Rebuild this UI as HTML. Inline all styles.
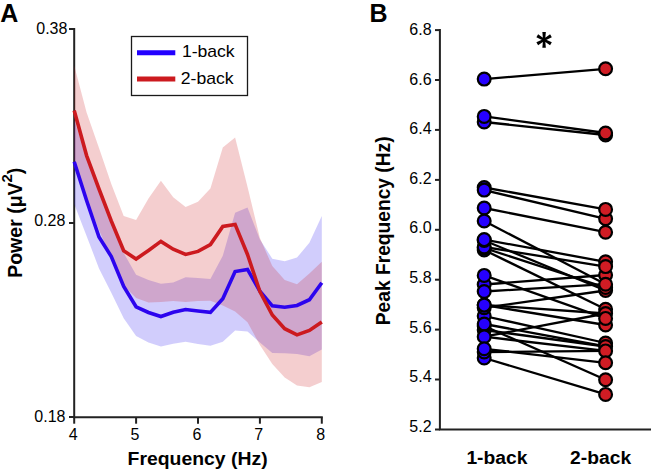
<!DOCTYPE html>
<html><head><meta charset="utf-8"><style>html,body{margin:0;padding:0;background:#fff}</style></head>
<body><svg width="651" height="469" viewBox="0 0 651 469" style="display:block;font-family:'Liberation Sans',sans-serif">
<rect width="651" height="469" fill="#fff"/>
<text x="0.2" y="21.9" font-size="25" font-weight="bold" fill="#000">A</text>
<text x="369.6" y="21.9" font-size="25" font-weight="bold" fill="#000">B</text>
<!-- axes left -->
<g stroke="#222" stroke-width="2" fill="none">
<path d="M74.2,28 V417.3 H322.8"/>
<path d="M69,29 H74.2"/><path d="M69,223 H74.2"/><path d="M69,417 H74.2"/>
<path d="M74.2,417.3 V423.7"/><path d="M136.1,417.3 V423.7"/><path d="M198.0,417.3 V423.7"/><path d="M259.9,417.3 V423.7"/><path d="M321.8,417.3 V423.7"/>
</g>
<!-- bands -->
<polygon points="74.2,120.0 86.6,157.0 99.0,190.5 111.3,222.5 123.7,253.0 136.1,274.8 148.5,279.9 160.9,283.7 173.2,282.4 185.6,277.3 198.0,278.0 210.4,279.0 222.8,255.7 235.1,212.8 247.5,207.5 259.9,239.5 272.3,258.7 284.7,261.2 297.0,257.6 309.4,242.7 321.8,216.0 321.8,349.6 309.4,356.3 297.0,353.9 284.7,353.2 272.3,353.1 259.9,342.4 247.5,331.5 235.1,330.4 222.8,341.7 210.4,345.8 198.0,344.0 185.6,341.7 173.2,343.8 160.9,346.4 148.5,342.5 136.1,336.1 123.7,318.2 111.3,292.7 99.0,268.4 86.6,236.0 74.2,204.0" fill="rgb(40,20,240)" fill-opacity="0.21"/>
<polygon points="74.2,65.4 86.6,112.5 99.0,148.0 111.3,184.0 123.7,215.9 136.1,220.1 148.5,198.4 160.9,180.7 173.2,197.3 185.6,206.9 198.0,201.8 210.4,188.5 222.8,147.4 235.1,137.4 247.5,186.8 259.9,238.0 272.3,266.1 284.7,280.0 297.0,284.2 309.4,273.6 321.8,261.8 321.8,382.0 309.4,387.2 297.0,385.6 284.7,377.4 272.3,363.9 259.9,345.0 247.5,322.2 235.1,311.4 222.8,305.6 210.4,300.7 198.0,301.0 185.6,301.9 173.2,301.1 160.9,302.1 148.5,302.4 136.1,297.9 123.7,285.7 111.3,258.0 99.0,230.0 86.6,198.7 74.2,162.0" fill="rgb(205,25,30)" fill-opacity="0.21"/>
<polyline points="74.2,161.7 86.6,200.5 99.0,237.0 111.3,256.5 123.7,286.5 136.1,306.8 148.5,312.5 160.9,316.5 173.2,312.3 185.6,309.5 198.0,311.0 210.4,312.4 222.8,298.7 235.1,271.5 247.5,269.4 259.9,291.2 272.3,305.9 284.7,307.2 297.0,305.5 309.4,299.7 321.8,282.7" fill="none" stroke="#2c04ee" stroke-width="3.6" stroke-linejoin="miter"/>
<polyline points="74.2,110.5 86.6,155.6 99.0,189.0 111.3,221.0 123.7,250.8 136.1,259.0 148.5,250.4 160.9,241.4 173.2,249.2 185.6,254.4 198.0,251.4 210.4,244.6 222.8,226.5 235.1,224.4 247.5,254.5 259.9,291.5 272.3,315.0 284.7,328.7 297.0,334.9 309.4,330.4 321.8,321.9" fill="none" stroke="#cc1a1f" stroke-width="3.6" stroke-linejoin="miter"/>
<g font-size="16" fill="#000" text-anchor="end">
<text x="67.4" y="33.6">0.38</text>
<text x="65.3" y="225.8">0.28</text>
<text x="65.5" y="421.6">0.18</text>
</g>
<g font-size="16" fill="#000" text-anchor="middle">
<text x="73.1" y="439.5">4</text><text x="135.0" y="439.5">5</text><text x="196.9" y="439.5">6</text><text x="258.8" y="439.5">7</text><text x="320.7" y="439.5">8</text>
</g>
<text transform="translate(197.6,464.9) scale(1.02,1)" font-size="19" font-weight="bold" text-anchor="middle" fill="#000">Frequency (Hz)</text>
<text transform="translate(21.8,277.8) rotate(-90)" font-size="19.5" font-weight="bold" fill="#000">Power (μV<tspan font-size="14.8" dy="-9.6">2</tspan><tspan dy="9.6">)</tspan></text>
<!-- legend -->
<rect x="131.5" y="36.5" width="116" height="59" fill="#fff" stroke="#1a1a1a" stroke-width="1.3"/>
<path d="M137,52.7 H175.3" stroke="#2200ff" stroke-width="5"/>
<path d="M137,79 H175.3" stroke="#cc1a1f" stroke-width="5"/>
<text transform="translate(181.9,57.1) scale(1.1,1)" font-size="16" fill="#000">1-back</text>
<text transform="translate(180.8,83.5) scale(1.1,1)" font-size="16" fill="#000">2-back</text>
<!-- right axes -->
<g stroke="#222" stroke-width="2" fill="none">
<path d="M439.9,29 V429.5 H651"/>
<path d="M435,30.1 H439.9"/><path d="M435,80.0 H439.9"/><path d="M435,129.9 H439.9"/><path d="M435,179.9 H439.9"/><path d="M435,229.8 H439.9"/><path d="M435,279.7 H439.9"/><path d="M435,329.6 H439.9"/><path d="M435,379.5 H439.9"/><path d="M435,429.5 H439.9"/>
</g>
<g font-size="16" fill="#000" text-anchor="end">
<text x="431.6" y="34.9">6.8</text><text x="431.6" y="84.5">6.6</text><text x="431.6" y="134.1">6.4</text><text x="431.6" y="183.7">6.2</text><text x="431.6" y="233.3">6.0</text><text x="431.6" y="282.9">5.8</text><text x="431.6" y="332.5">5.6</text><text x="431.6" y="382.1">5.4</text><text x="431.6" y="431.7">5.2</text>
</g>
<text transform="translate(389.8,325.2) rotate(-90) scale(1,1.04)" font-size="19.2" font-weight="bold" fill="#000">Peak Frequency (Hz)</text>
<text transform="translate(496.9,463.6) scale(1.03,1)" font-size="18.7" font-weight="bold" text-anchor="middle" fill="#000">1-back</text>
<text transform="translate(600.6,463.6) scale(1.03,1)" font-size="18.7" font-weight="bold" text-anchor="middle" fill="#000">2-back</text>
<path d="M545.15,39.80 L545.85,31.90 L542.35,31.90 L543.05,39.80Z M543.05,39.80 L542.35,47.70 L545.85,47.70 L545.15,39.80Z M544.62,40.71 L551.82,37.37 L550.07,34.33 L543.58,38.89Z M544.62,38.89 L538.13,34.33 L536.38,37.37 L543.58,40.71Z M543.58,38.89 L536.38,42.23 L538.13,45.27 L544.62,40.71Z M543.58,40.71 L550.07,45.27 L551.82,42.23 L544.62,38.89Z " fill="#000"/><circle cx="544.1" cy="39.8" r="1.6" fill="#000"/>
<g stroke="#000" stroke-width="2.3"><line x1="484.2" y1="79.1" x2="605.6" y2="68.8"/><line x1="484.2" y1="116.4" x2="605.6" y2="133"/><line x1="484.2" y1="122" x2="605.6" y2="135"/><line x1="484.2" y1="187.5" x2="605.6" y2="209.4"/><line x1="484.2" y1="190.1" x2="605.6" y2="218.8"/><line x1="484.2" y1="208" x2="605.6" y2="232.2"/><line x1="484.2" y1="221" x2="605.6" y2="284.2"/><line x1="484.2" y1="239.6" x2="605.6" y2="261.8"/><line x1="484.2" y1="240.5" x2="605.6" y2="290.5"/><line x1="484.2" y1="247" x2="605.6" y2="266.6"/><line x1="484.2" y1="248" x2="605.6" y2="287.5"/><line x1="484.2" y1="250" x2="605.6" y2="309.3"/><line x1="484.2" y1="275.4" x2="605.6" y2="318.4"/><line x1="484.2" y1="284.5" x2="605.6" y2="275"/><line x1="484.2" y1="291.5" x2="605.6" y2="284.2"/><line x1="484.2" y1="307.7" x2="605.6" y2="290.5"/><line x1="484.2" y1="305" x2="605.6" y2="313.5"/><line x1="484.2" y1="305.1" x2="605.6" y2="325"/><line x1="484.2" y1="316" x2="605.6" y2="343"/><line x1="484.2" y1="324" x2="605.6" y2="346.5"/><line x1="484.2" y1="330" x2="605.6" y2="346.5"/><line x1="484.2" y1="336.7" x2="605.6" y2="313.5"/><line x1="484.2" y1="336.7" x2="605.6" y2="350.9"/><line x1="484.2" y1="326" x2="605.6" y2="379.8"/><line x1="484.2" y1="348.8" x2="605.6" y2="362.8"/><line x1="484.2" y1="352" x2="605.6" y2="350.9"/><line x1="484.2" y1="358" x2="605.6" y2="394.4"/></g>
<g stroke="#000" stroke-width="2.2" fill="#2600ff"><circle cx="484.2" cy="122" r="6.4"/><circle cx="484.2" cy="116.4" r="6.4"/><circle cx="484.2" cy="79.1" r="6.4"/><circle cx="484.2" cy="187.5" r="6.4"/><circle cx="484.2" cy="190.1" r="6.4"/><circle cx="484.2" cy="208" r="6.4"/><circle cx="484.2" cy="221" r="6.4"/><circle cx="484.2" cy="250" r="6.4"/><circle cx="484.2" cy="248" r="6.4"/><circle cx="484.2" cy="247" r="6.4"/><circle cx="484.2" cy="240.5" r="6.4"/><circle cx="484.2" cy="239.6" r="6.4"/><circle cx="484.2" cy="284.5" r="6.4"/><circle cx="484.2" cy="275.4" r="6.4"/><circle cx="484.2" cy="291.5" r="6.4"/><circle cx="484.2" cy="316" r="6.4"/><circle cx="484.2" cy="307.7" r="6.4"/><circle cx="484.2" cy="305" r="6.4"/><circle cx="484.2" cy="305.1" r="6.4"/><circle cx="484.2" cy="330" r="6.4"/><circle cx="484.2" cy="326" r="6.4"/><circle cx="484.2" cy="324" r="6.4"/><circle cx="484.2" cy="358" r="6.4"/><circle cx="484.2" cy="352" r="6.4"/><circle cx="484.2" cy="336.7" r="6.4"/><circle cx="484.2" cy="348.8" r="6.4"/></g>
<g stroke="#000" stroke-width="2.2" fill="#d01c24"><circle cx="605.6" cy="68.8" r="6.4"/><circle cx="605.6" cy="135" r="6.4"/><circle cx="605.6" cy="133" r="6.4"/><circle cx="605.6" cy="218.8" r="6.4"/><circle cx="605.6" cy="209.4" r="6.4"/><circle cx="605.6" cy="232.2" r="6.4"/><circle cx="605.6" cy="261.8" r="6.4"/><circle cx="605.6" cy="275" r="6.4"/><circle cx="605.6" cy="266.6" r="6.4"/><circle cx="605.6" cy="290.5" r="6.4"/><circle cx="605.6" cy="287.5" r="6.4"/><circle cx="605.6" cy="284.2" r="6.4"/><circle cx="605.6" cy="309.3" r="6.4"/><circle cx="605.6" cy="313.5" r="6.4"/><circle cx="605.6" cy="325" r="6.4"/><circle cx="605.6" cy="318.4" r="6.4"/><circle cx="605.6" cy="343" r="6.4"/><circle cx="605.6" cy="346.5" r="6.4"/><circle cx="605.6" cy="350.9" r="6.4"/><circle cx="605.6" cy="362.8" r="6.4"/><circle cx="605.6" cy="379.8" r="6.4"/><circle cx="605.6" cy="394.4" r="6.4"/></g>
</svg></body></html>
